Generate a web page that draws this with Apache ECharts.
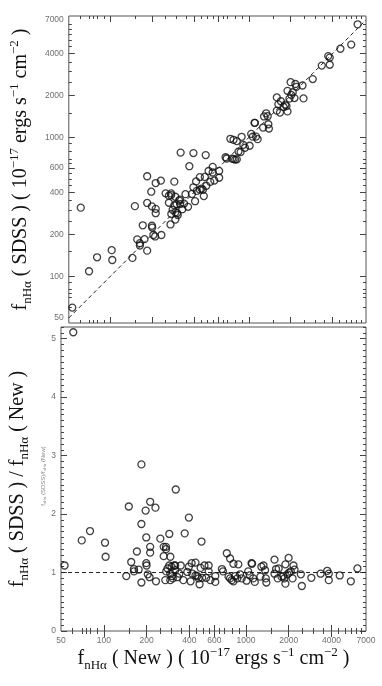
<!DOCTYPE html>
<html>
<head>
<meta charset="utf-8">
<script src="https://cdn.jsdelivr.net/npm/echarts@6/dist/echarts.min.js"></script>
<style>
  html, body { margin: 0; padding: 0; background: #fff; }
  #chart { width: 382px; height: 686px; }
</style>
</head>
<body>
<div id="chart"></div>
<script>
const fluxNew = [
  53, 61, 70, 80, 102, 103, 144, 150, 156, 163, 163, 171, 176, 184, 184, 184,
  197, 199, 199, 200, 204, 210, 212, 212, 212, 231, 233, 250, 264, 264, 271, 274,
  274, 275, 281, 289, 289, 294, 294, 294, 300, 303, 306, 313, 318, 318, 321, 330,
  340, 348, 363, 371, 387, 397, 397, 408, 415, 420, 442, 442, 455, 465, 472, 480,
  487, 492, 511, 525, 547, 547, 562, 609, 609, 678, 690, 734, 774, 755, 774, 795,
  817, 817, 840, 885, 870, 910, 935, 1011, 1038, 1065, 1096, 1105, 1125, 1155, 1285, 1265,
  1330, 1365, 1380, 1393, 1589, 1589, 1630, 1675, 1700, 1780, 1830, 1865, 1897, 1897, 1960, 1998,
  2020, 2070, 2130, 2162, 2200, 2436, 2476, 2887, 3355, 3736, 3830, 3830, 4573, 5476, 6091
];
const fluxRatio = [
  1.12, 5.11, 1.55, 1.71, 1.51, 1.27, 0.94, 2.13, 1.18, 1.06, 1.02, 1.36, 1.05, 1.83, 0.83, 2.85,
  2.06, 1.60, 1.16, 1.12, 0.97, 0.92, 2.21, 1.44, 1.34, 2.11, 0.85, 1.58, 1.44, 1.28, 0.87, 1.44,
  1.40, 1.02, 1.07, 1.66, 1.12, 1.27, 0.98, 0.87, 1.10, 0.94, 0.90, 1.12, 1.12, 1.04, 2.42, 0.92,
  0.98, 1.12, 0.87, 1.67, 1.01, 1.94, 1.10, 0.85, 1.16, 0.98, 1.17, 0.95, 0.94, 0.90, 0.80, 1.08,
  1.53, 0.91, 1.12, 0.91, 1.12, 1.02, 0.87, 0.94, 0.84, 1.06, 1.02, 1.33, 1.24, 0.93, 0.90, 0.87,
  1.15, 0.85, 0.94, 1.14, 0.90, 0.97, 0.90, 0.86, 1.02, 0.95, 1.16, 1.15, 0.90, 0.84, 1.10, 0.93,
  1.12, 1.04, 0.90, 0.83, 1.22, 0.98, 1.06, 0.90, 1.07, 0.93, 0.94, 0.90, 1.14, 0.81, 0.97, 1.25,
  1.00, 1.02, 0.90, 1.12, 1.05, 0.97, 0.77, 0.91, 0.98, 1.03, 0.87, 0.98, 0.95, 0.85, 1.07
];

const fluxLabels = [50, 100, 200, 400, 600, 1000, 2000, 4000, 7000];
const fluxMajorTicks = [100, 200, 400, 600, 1000, 2000, 4000];
const fluxMinorTicks = [60, 70, 75, 80, 90, 150, 250, 300, 350, 450, 500, 550, 650, 700, 800, 900,
  1500, 2500, 3000, 3500, 4500, 5000, 5500, 6000, 6500];
const ratioLabels = [0, 1, 2, 3, 4, 5];
const ratioMinorTicks = [];
for (let v = 0.1; v < 5.2; v += 0.1) ratioMinorTicks.push(+v.toFixed(1));

const oneToOne = [[50, 50], [7000, 7000]];
const unity = [[50, 1], [7000, 1]];

const chart = echarts.init(document.getElementById('chart'));

const SERIF = 'Liberation Serif';
const nameRich = {
  m: { fontFamily: SERIF, fontSize: 20, color: '#111', lineHeight: 26 },
  s: { fontFamily: SERIF, fontSize: 13, color: '#111', lineHeight: 14, verticalAlign: 'bottom' },
  p: { fontFamily: SERIF, fontSize: 13, color: '#111', lineHeight: 14, verticalAlign: 'top' }
};
const sdssName = '{m|f}{s|nHα}{m| ( SDSS ) ( 10}{p|−17}{m| ergs s}{p|−1}{m| cm}{p|−2}{m| )}';
const ratioName = '{m|f}{s|nHα}{m| ( SDSS ) / f}{s|nHα}{m| ( New )}';
const newName = '{m|f}{s|nHα}{m| ( New ) ( 10}{p|−17}{m| ergs s}{p|−1}{m| cm}{p|−2}{m| )}';

// one axis = one set of tick marks on one side of a panel
function tickAxis(gridIndex, position, type, min, max, ticks, len, labels, extra) {
  return Object.assign({
    type: type,
    logBase: 10,
    gridIndex: gridIndex,
    position: position,
    min: min,
    max: max,
    axisLine: { show: false },
    splitLine: { show: false },
    axisTick: {
      show: true, inside: true, length: len, customValues: ticks,
      lineStyle: { color: '#444', width: 1 }
    },
    axisLabel: labels ? {
      show: true, customValues: labels, fontSize: 8.5, color: '#707070',
      fontFamily: 'Liberation Sans', margin: 5,
      formatter: v => String(Math.round(v))
    } : { show: false }
  }, extra || {});
}

const xAxes = [];
const yAxes = [];
[0, 1].forEach(g => {
  ['bottom', 'top'].forEach(pos => {
    const withLabels = g === 1 && pos === 'bottom';
    xAxes.push(tickAxis(g, pos, 'log', 50, 7000, fluxMajorTicks, 6, withLabels ? fluxLabels : null,
      withLabels ? {
        name: newName, nameLocation: 'middle', nameGap: 15,
        nameTextStyle: { rich: nameRich }
      } : null));
    xAxes.push(tickAxis(g, pos, 'log', 50, 7000, fluxMinorTicks, 3, null));
  });
});
['left', 'right'].forEach(pos => {
  const withLabels = pos === 'left';
  yAxes.push(tickAxis(0, pos, 'log', 46, 7480, fluxMajorTicks, 6, withLabels ? fluxLabels : null,
    withLabels ? {
      name: sdssName, nameLocation: 'middle', nameGap: 30, nameRotate: 90,
      nameTextStyle: { rich: nameRich }
    } : null));
  yAxes.push(tickAxis(0, pos, 'log', 46, 7480, fluxMinorTicks, 3, null));
});
['left', 'right'].forEach(pos => {
  const withLabels = pos === 'left';
  yAxes.push(tickAxis(1, pos, 'value', 0, 5.2, ratioLabels, 6, withLabels ? ratioLabels : null,
    withLabels ? {
      name: ratioName, nameLocation: 'middle', nameGap: 30, nameRotate: 90,
      nameTextStyle: { rich: nameRich }
    } : null));
  yAxes.push(tickAxis(1, pos, 'value', 0, 5.2, ratioMinorTicks, 3, null));
});

const ringStyle = { color: 'rgba(0,0,0,0)', borderColor: '#111', borderWidth: 1.3 };

chart.setOption({
  animation: false,
  backgroundColor: '#fff',
  grid: [
    { left: 59, top: 16, width: 307, height: 307, show: true, borderColor: '#555', borderWidth: 1 },
    { left: 59, top: 327, width: 307, height: 304, show: true, borderColor: '#555', borderWidth: 1 }
  ],
  xAxis: xAxes,
  yAxis: yAxes,
  graphic: [{
    type: 'text',
    x: 43, y: 476, rotation: Math.PI / 2,
    style: {
      text: '{a|f}{b|nHα}{a| (SDSS)/f}{b|nHα}{a| (New)}',
      align: 'center', verticalAlign: 'middle',
      rich: {
        a: { fontFamily: 'Liberation Sans', fontSize: 6, fill: '#888', lineHeight: 8 },
        b: { fontFamily: 'Liberation Sans', fontSize: 4, fill: '#888', lineHeight: 5, verticalAlign: 'bottom' }
      }
    }
  }],
  series: [
    {
      type: 'line', xAxisIndex: 0, yAxisIndex: 0, data: oneToOne, symbol: 'none',
      lineStyle: { color: '#222', width: 1, type: [4, 3] }, z: 1
    },
    {
      type: 'scatter', xAxisIndex: 0, yAxisIndex: 0, symbol: 'circle', symbolSize: 7,
      itemStyle: ringStyle, z: 2,
      data: fluxNew.map((x, i) => [x, +(x * fluxRatio[i]).toFixed(1)])
    },
    {
      type: 'line', xAxisIndex: 4, yAxisIndex: 4, data: unity, symbol: 'none',
      lineStyle: { color: '#222', width: 1, type: [4, 3] }, z: 1
    },
    {
      type: 'scatter', xAxisIndex: 4, yAxisIndex: 4, symbol: 'circle', symbolSize: 7,
      itemStyle: ringStyle, z: 2,
      data: fluxNew.map((x, i) => [x, fluxRatio[i]])
    }
  ]
});
</script>
</body>
</html>
